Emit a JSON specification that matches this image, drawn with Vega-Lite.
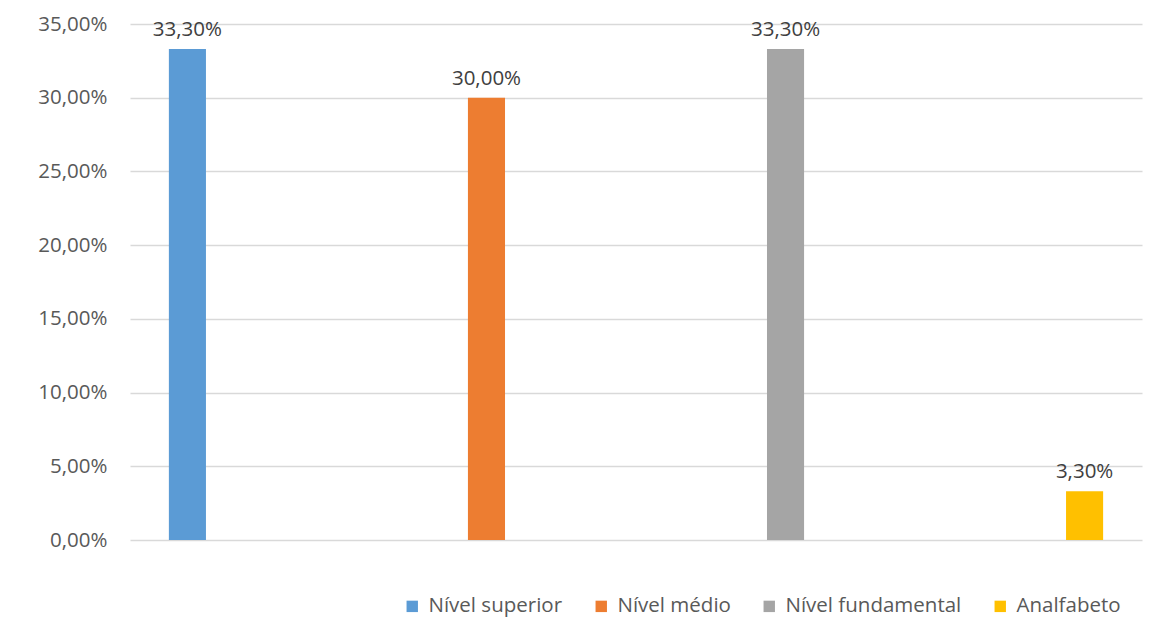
{
  "$schema": "https://vega.github.io/schema/vega-lite/v6.json",
  "autosize": "none",
  "width": 1012,
  "height": 516,
  "padding": {"left": 130, "top": 24, "right": 18, "bottom": 99},
  "background": "white",
  "config": {
    "view": {"stroke": null},
    "font": "Open Sans",
    "locale": {"number": {"decimal": ",", "thousands": ".", "grouping": [3], "currency": ["R$", ""]}}
  },
  "data": {
    "values": [
      {"serie": "Nível superior", "valor": 0.333},
      {"serie": "Nível médio", "valor": 0.30},
      {"serie": "Nível fundamental", "valor": 0.333},
      {"serie": "Analfabeto", "valor": 0.033}
    ]
  },
  "encoding": {
    "x": {
      "field": "serie", "type": "nominal", "sort": null,
      "scale": {"paddingInner": 0.876, "paddingOuter": 0.13},
      "axis": null
    },
    "y": {
      "field": "valor", "type": "quantitative",
      "scale": {"domain": [0, 0.35], "nice": false},
      "axis": {
        "title": null, "format": ".2%", "values": [0, 0.05, 0.1, 0.15, 0.2, 0.25, 0.3, 0.35],
        "domain": false, "ticks": false, "labelPadding": 23,
        "labelFontSize": 20.5, "labelColor": "#595959", "labelFont": "Open Sans",
        "gridColor": "#d9d9d9", "gridWidth": 1.5
      }
    }
  },
  "layer": [
    {
      "mark": {"type": "bar"},
      "encoding": {
        "color": {
          "field": "serie", "type": "nominal", "sort": null,
          "scale": {"domain": ["Nível superior", "Nível médio", "Nível fundamental", "Analfabeto"],
                    "range": ["#5B9BD5", "#ED7D31", "#A5A5A5", "#FFC000"]},
          "legend": {
            "title": null, "orient": "none", "direction": "horizontal",
            "legendX": 272, "legendY": 572,
            "symbolType": "square", "symbolSize": 130, "symbolStrokeWidth": 0,
            "labelFontSize": 20.5, "labelColor": "#595959", "labelFont": "Open Sans",
            "labelLimit": 400, "labelOffset": 6, "columnPadding": 28, "padding": 0
          }
        }
      }
    },
    {
      "mark": {"type": "text", "baseline": "alphabetic", "dy": -13, "fontSize": 20.5, "color": "#404040", "font": "Open Sans"},
      "encoding": {
        "text": {"field": "valor", "type": "quantitative", "format": ".2%"}
      }
    }
  ]
}
